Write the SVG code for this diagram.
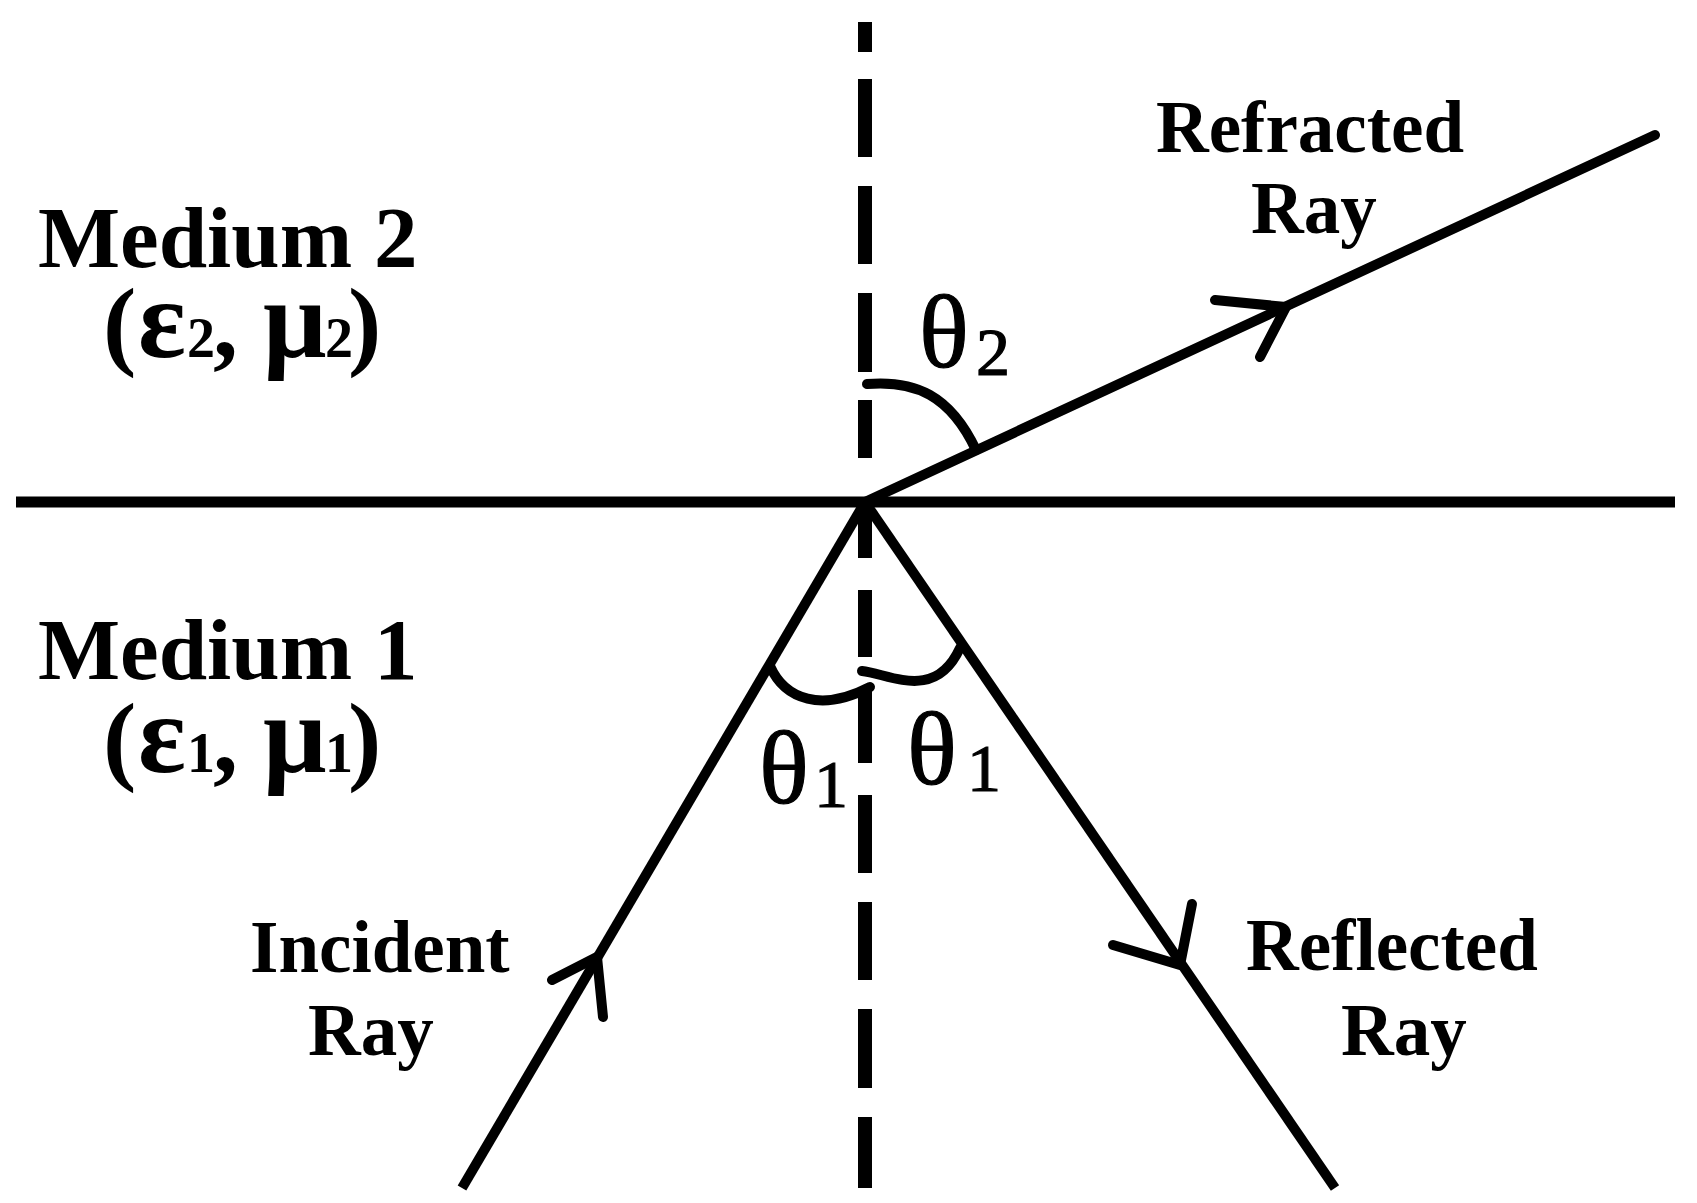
<svg xmlns="http://www.w3.org/2000/svg" width="1697" height="1203" viewBox="0 0 1697 1203">
<style>
.bg{fill:#ffffff}
.ln{stroke:#000;stroke-width:11;fill:none}
.ray{stroke:#000;stroke-width:10;fill:none;stroke-linecap:butt}
.dash{stroke:#000;stroke-width:14;fill:none}
.arc{stroke:#000;stroke-width:10;fill:none;stroke-linecap:round}
.arrow{stroke:#000;stroke-width:10;fill:none;stroke-linecap:round;stroke-linejoin:round}
.lbl{font-family:"Liberation Serif","Times New Roman",serif;font-weight:bold;fill:#000}
.big{font-size:87px}
.mid{font-size:73px}
.par{font-size:100px}
.gr{font-size:112px}
.sub{font-size:56px}
.th{font-family:"Liberation Serif","Times New Roman",serif;font-weight:normal;fill:#000;stroke:#000;stroke-width:1.2;font-size:104px}
.thsub{font-size:68px}
</style>
<rect class="bg" x="0" y="0" width="1697" height="1203"/>
<g id="connectors">
  <line id="interface" class="ln" x1="16" y1="502" x2="1675" y2="502"/>
  <g id="normal">
    <line class="dash" x1="865" y1="22" x2="865" y2="52"/>
    <line class="dash" x1="865" y1="79" x2="865" y2="157"/>
    <line class="dash" x1="865" y1="186" x2="865" y2="264"/>
    <line class="dash" x1="865" y1="293" x2="865" y2="372"/>
    <line class="dash" x1="865" y1="400" x2="865" y2="458"/>
    <line class="dash" x1="865" y1="497" x2="865" y2="558"/>
    <line class="dash" x1="865" y1="590" x2="865" y2="657"/>
    <line class="dash" x1="865" y1="687" x2="865" y2="763"/>
    <line class="dash" x1="865" y1="795" x2="865" y2="873"/>
    <line class="dash" x1="865" y1="902" x2="865" y2="980"/>
    <line class="dash" x1="865" y1="1009" x2="865" y2="1088"/>
    <line class="dash" x1="865" y1="1117" x2="865" y2="1188"/>
  </g>
  <line id="incident-ray" class="ray" x1="865" y1="502" x2="462" y2="1188"/>
  <line id="reflected-ray" class="ray" x1="865" y1="502" x2="1335" y2="1188"/>
  <line id="refracted-ray" class="ray" style="stroke-linecap:round" x1="865" y1="502" x2="1655" y2="135"/>
  <polyline id="incident-arrow" class="arrow" points="552,980 597,957 603,1017"/>
  <polyline id="reflected-arrow" class="arrow" points="1113,945 1180,965 1192,904"/>
  <polyline id="refracted-arrow" class="arrow" points="1215,300 1286,307 1260,357"/>
  <path id="arc-theta2" class="arc" d="M 867 384 C 915 380 950 395 976 450"/>
  <path id="arc-theta1-left" class="arc" d="M 770 666 C 785 700 822 712 870 687"/>
  <path id="arc-theta1-right" class="arc" d="M 862 671 C 890 674 935 702 960 648"/>
</g>
<g id="medium2">
  <text class="lbl big" x="38" y="267">Medium 2</text>
  <text class="lbl par" y="357"><tspan x="103">(</tspan><tspan class="gr" x="138">ε</tspan><tspan class="sub" x="187">2</tspan><tspan x="213">,</tspan><tspan class="gr" x="263">μ</tspan><tspan class="sub" x="325">2</tspan><tspan x="348">)</tspan></text>
</g>
<g id="medium1">
  <text class="lbl big" x="38" y="679">Medium 1</text>
  <text class="lbl par" y="772"><tspan x="103">(</tspan><tspan class="gr" x="138">ε</tspan><tspan class="sub" x="187">1</tspan><tspan x="213">,</tspan><tspan class="gr" x="263">μ</tspan><tspan class="sub" x="325">1</tspan><tspan x="348">)</tspan></text>
</g>
<g id="refracted-label">
  <text class="lbl mid" x="1156" y="152">Refracted</text>
  <text class="lbl mid" x="1251" y="233">Ray</text>
</g>
<g id="incident-label">
  <text class="lbl mid" x="250" y="972">Incident</text>
  <text class="lbl mid" x="308" y="1055">Ray</text>
</g>
<g id="reflected-label">
  <text class="lbl mid" x="1246" y="970">Reflected</text>
  <text class="lbl mid" x="1341" y="1055">Ray</text>
</g>
<g id="theta2-label">
  <text class="th" x="919" y="367">θ<tspan class="thsub" x="976" y="375">2</tspan></text>
</g>
<g id="theta1-left-label">
  <text class="th" x="759" y="803">θ<tspan class="thsub" x="814" y="807">1</tspan></text>
</g>
<g id="theta1-right-label">
  <text class="th" x="907" y="784">θ<tspan class="thsub" x="967" y="791">1</tspan></text>
</g>
</svg>
